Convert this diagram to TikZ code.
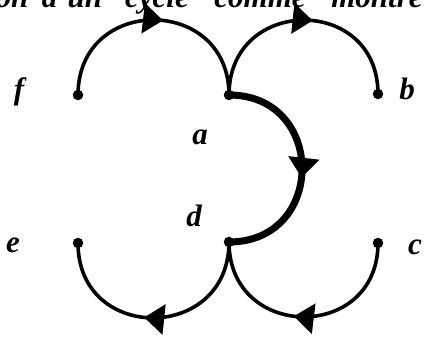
\documentclass[tikz,border=0pt]{standalone}
\usepackage{fontspec}
\setmainfont{Liberation Serif}
\usetikzlibrary{arrows.meta,decorations.markings}

\colorlet{cyc}{black}

\tikzset{
  dot/.style={circle, fill=cyc, inner sep=0pt, minimum size=10.5pt},
  lbl/.style={font=\fontsize{31}{31}\selectfont\bfseries\itshape, inner sep=0pt, anchor=base},
  txt/.style={font=\fontsize{31}{31}\selectfont\bfseries\itshape, inner sep=0pt, anchor=base},
  edge/.style={line width=3.6pt, cyc, looseness=1.7, postaction=decorate,
    decoration={markings, mark=at position 0.54 with {\arrow{Triangle[length=20pt,width=30pt]}}}},
  heavy/.style={edge, line width=7pt}
}

\begin{document}
\begin{tikzpicture}[x=1pt, y=1pt]
    \useasboundingbox (0,0) rectangle (424,337);
    %--- bout de texte coupe en haut ---
    \begin{scope}
      \clip (0,0) rectangle (424,337);
      \node[txt] (w1) at (12,329){on};
      \node[txt] (w2) at (72,329){d'un};
      \node[txt] (w3) at (157,329){cycle};
      \node[txt] (w4) at (260,329){comme};
      \node[txt] (w5) at (377,329){montre};
    \end{scope}
    %--- sommets ---
    \node[dot] (f) at (78,242){};
    \node[dot] (a) at (229,242){};
    \node[dot] (b) at (378,243){};
    \node[dot] (e) at (78,94){};
    \node[dot] (d) at (229,95){};
    \node[dot] (c) at (378,94){};
    %--- noms des sommets ---
    \node[lbl] (lf) at (19,237){f};
    \node[lbl] (la) at (200,192){a};
    \node[lbl] (lb) at (407,237){b};
    \node[lbl] (le) at (13,84){e};
    \node[lbl] (ld) at (194,110){d};
    \node[lbl] (lc) at (415,82){c};
    %--- arcs du cycle ---
    \draw[edge] (f.center) to[out=90, in=90] (a.center);
    \draw[edge] (a.center) to[out=90, in=90] (b.center);
    \draw[heavy] (a.center) to[out=0, in=0] (d.center);
    \draw[edge] (d.center) to[out=-90, in=-90] (e.center);
    \draw[edge] (c.center) to[out=-90, in=-90] (d.center);
\end{tikzpicture}
\end{document}
